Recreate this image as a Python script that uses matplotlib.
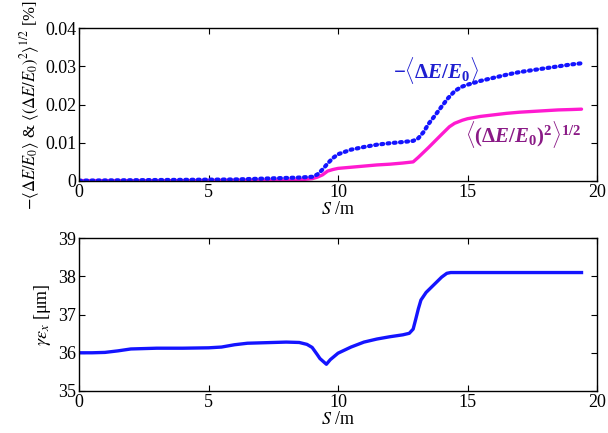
import numpy as np
import matplotlib
matplotlib.use("Agg")
import matplotlib.pyplot as plt

plt.rcParams.update({
    "font.family": "serif",
    "font.serif": ["Liberation Serif", "DejaVu Serif"],
    "font.size": 13,
    "mathtext.fontset": "stix",
    "mathtext.rm": "Liberation Serif:bold",
    "mathtext.it": "Liberation Serif:bold:italic",
    "mathtext.bf": "Liberation Serif:bold",
    "xtick.direction": "in",
    "ytick.direction": "in",
    "xtick.top": True,
    "ytick.right": True,
    "xtick.major.size": 4,
    "ytick.major.size": 4,
    "axes.linewidth": 1.0,
})

# ── data ─────────────────────────────────────────────
s_mean = [0, 2, 4, 6, 7, 8, 8.5, 9, 9.2, 9.4, 9.6, 9.8, 10, 10.5, 11, 11.5, 12, 12.5,
          12.9, 13.1, 13.3, 13.5, 13.75, 14, 14.25, 14.5, 14.75, 15, 15.5, 16, 16.5,
          17, 17.5, 18, 18.5, 19, 19.4]
de_mean = [0.0001, 0.0002, 0.0003, 0.0004, 0.0006, 0.0008, 0.0009, 0.0011, 0.0017,
           0.0030, 0.0046, 0.0060, 0.0070, 0.0082, 0.0089, 0.0095, 0.0099, 0.0102,
           0.0105, 0.0112, 0.0128, 0.0150, 0.0172, 0.0195, 0.0217, 0.0235, 0.0246,
           0.0252, 0.0262, 0.0270, 0.0278, 0.0285, 0.0290, 0.0295, 0.0300, 0.0305, 0.0308]

s_rms = [0, 2, 4, 6, 8, 8.5, 9, 9.2, 9.4, 9.6, 9.8, 10, 10.5, 11, 11.5, 12, 12.5, 12.9,
         13.1, 13.5, 14, 14.3, 14.5, 14.8, 15, 15.5, 16, 16.5, 17, 17.5, 18, 18.5, 19, 19.4]
de_rms = [0.0001, 0.0001, 0.0001, 0.0002, 0.0002, 0.0003, 0.0006, 0.0010, 0.0016,
          0.0026, 0.0030, 0.0033, 0.0036, 0.0039, 0.0042, 0.0044, 0.0047, 0.0050,
          0.0062, 0.0088, 0.0122, 0.0142, 0.0151, 0.0159, 0.0163, 0.0169, 0.0173, 0.0177,
          0.0180, 0.0182, 0.0184, 0.0186, 0.0187, 0.0188]

s_emit = [0, 0.5, 1, 1.5, 2, 3, 4, 5, 5.5, 6, 6.5, 7, 8, 8.5, 8.8, 9, 9.2, 9.3, 9.55,
          9.7, 10, 10.5, 11, 11.5, 12, 12.5, 12.75, 12.9, 13.0, 13.1, 13.2, 13.4, 13.7,
          14, 14.2, 14.35, 15, 16, 17, 18, 19, 19.4]
emit = [36.00, 36.00, 36.01, 36.05, 36.10, 36.12, 36.12, 36.13, 36.15, 36.21, 36.25,
        36.26, 36.28, 36.27, 36.22, 36.14, 35.95, 35.85, 35.70, 35.82, 35.99, 36.15,
        36.28, 36.36, 36.42, 36.47, 36.51, 36.62, 36.88, 37.15, 37.38, 37.58, 37.78,
        37.98, 38.08, 38.10, 38.10, 38.10, 38.10, 38.10, 38.10, 38.10]

BLUE = "#1414ff"
MAGENTA = "#ff1ad0"

fig = plt.figure(figsize=(6.08, 4.33), dpi=100)
ax1 = fig.add_axes([0.130, 0.582, 0.852, 0.353])
ax2 = fig.add_axes([0.130, 0.097, 0.852, 0.353])

# ── top panel ───────────────────────────────────────
ax1.plot(s_rms, de_rms, color=MAGENTA, lw=2.4, solid_capstyle="round")
ax1.plot(s_mean, de_mean, color=BLUE, lw=3.0, linestyle=(0, (0.45, 1.05)),
         dash_capstyle="round")
ax1.set_xlim(0, 20)
ax1.set_ylim(0, 0.04)
ax1.set_xticks([0, 5, 10, 15, 20])
ax1.set_yticks([0, 0.01, 0.02, 0.03, 0.04])
ax1.set_yticklabels(["0", "0.01", "0.02", "0.03", "0.04"])
ax1.set_xlabel(r"$S$ /m", labelpad=0, math_fontfamily="stix")
ax1.set_ylabel(r"$-\langle\Delta E/E_0\rangle$ & $\langle(\Delta E/E_0)^2\rangle^{1/2}$ [%]",
               fontsize=12, labelpad=2, math_fontfamily="stix")

ax1.text(13.8, 0.0269, r"$-\langle\Delta E/E_\mathbf{0}\rangle$", color="#1f1fd0",
         ha="center", va="baseline", fontsize=15, math_fontfamily="custom")
ax1.text(17.15, 0.0102, r"$\langle(\Delta E/E_\mathbf{0})^\mathbf{2}\rangle^\mathbf{1/2}$",
         color="#8a1a86", ha="center", va="baseline", fontsize=15,
         math_fontfamily="custom")

# ── bottom panel ────────────────────────────────────
ax2.plot(s_emit, emit, color=BLUE, lw=2.4)
ax2.set_xlim(0, 20)
ax2.set_ylim(35, 39)
ax2.set_xticks([0, 5, 10, 15, 20])
ax2.set_yticks([35, 36, 37, 38, 39])
ax2.set_xlabel(r"$S$ /m", labelpad=0, math_fontfamily="stix")
ax2.set_ylabel(r"$\gamma\varepsilon_x$ [μm]", labelpad=4, math_fontfamily="stix")

for ax in (ax1, ax2):
    ax.tick_params(pad=2)

fig.savefig("out.png", dpi=100)
